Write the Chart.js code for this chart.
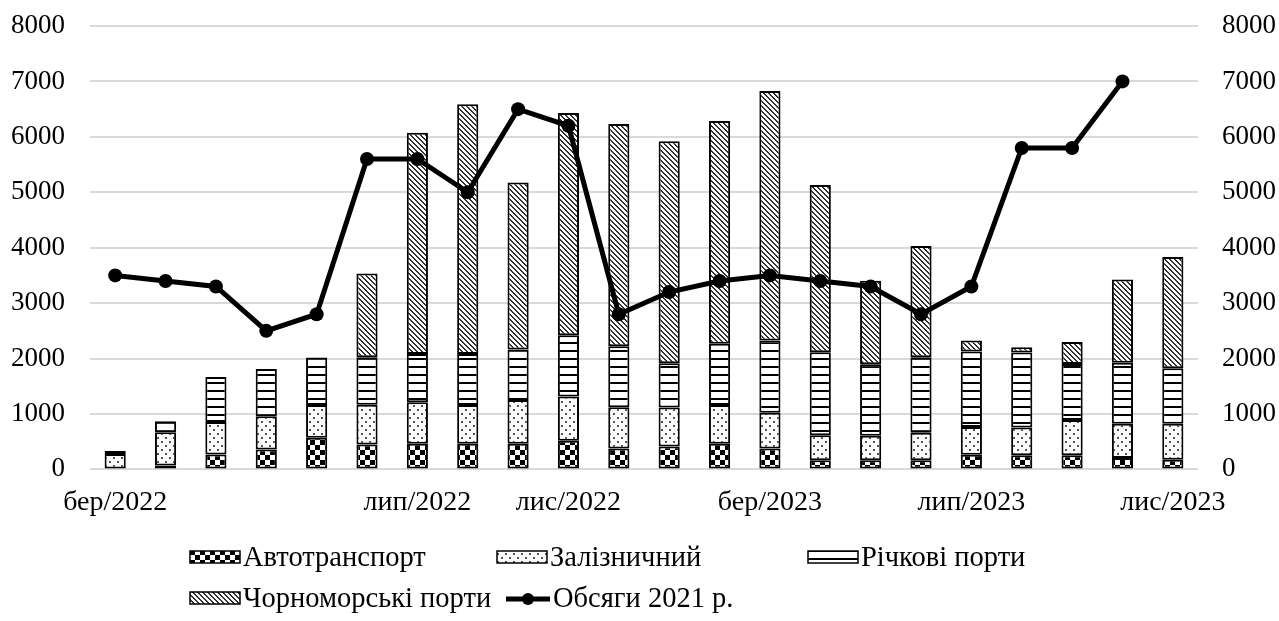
<!DOCTYPE html>
<html>
<head>
<meta charset="utf-8">
<script src="https://cdn.jsdelivr.net/npm/chart.js@4"></script>
<style>
  html, body { margin: 0; background: #fff; }
  #wrap { width: 1279px; height: 621px; }
</style>
</head>
<body>
<div id="wrap"><canvas id="chart"></canvas></div>
<script>
// categories (only some carry a visible label, as in the source chart)
const categories = ['бер/2022', '', '', '', '', '', 'лип/2022', '', '', 'лис/2022', '', '',
                    '', 'бер/2023', '', '', '', 'лип/2023', '', '', '', 'лис/2023'];

const avto   = [null, 70, 270, 360, 570, 450, 465, 465, 465, 515, 375, 415, 465, 375, 165, 165, 165, 265, 255, 255, 205, 175];
const zaliz  = [280, 600, 585, 600, 590, 715, 745, 695, 785, 800, 745, 700, 695, 645, 450, 440, 495, 500, 500, 635, 620, 650];
const richka = [50, 200, 810, 850, 860, 860, 870, 920, 915, 1105, 1100, 800, 1105, 1305, 1500, 1290, 1365, 1360, 1355, 1010, 1100, 1000];
const chorno = [null, null, null, null, null, 1510, 3995, 4510, 3010, 4010, 4010, 4005, 4020, 4500, 3015, 1510, 2005, 200, 95, 400, 1500, 2005];
const obsyagy2021 = [3500, 3400, 3300, 2500, 2800, 5600, 5600, 5000, 6500, 6200, 2800, 3200, 3400, 3500, 3400, 3300, 2800, 3300, 5800, 5800, 7000, null];

const yTicks = { min: 0, max: 8000, step: 1000 };

const FONT = "'Liberation Serif', 'Times New Roman', serif";
Chart.defaults.font.family = FONT;
Chart.defaults.font.size = 27;
Chart.defaults.color = '#000';

function makePattern(kind) {
  const c = document.createElement('canvas');
  const g = c.getContext('2d');
  if (kind === 'checker') {
    c.width = c.height = 10;
    g.fillStyle = '#fff'; g.fillRect(0, 0, 10, 10);
    g.fillStyle = '#000'; g.fillRect(0, 0, 5, 5); g.fillRect(5, 5, 5, 5);
  } else if (kind === 'dots') {
    c.width = c.height = 8;
    g.fillStyle = '#fcfcfc'; g.fillRect(0, 0, 8, 8);
    g.fillStyle = '#555'; g.fillRect(1, 1, 2, 2); g.fillRect(5, 5, 2, 2);
  } else if (kind === 'hlines') {
    c.width = c.height = 8;
    g.fillStyle = '#fff'; g.fillRect(0, 0, 8, 8);
    g.fillStyle = '#000'; g.fillRect(0, 6, 8, 2);
  } else {
    c.width = c.height = 5;
    g.fillStyle = '#fff'; g.fillRect(0, 0, 5, 5);
    g.fillStyle = '#333';
    for (let y = 0; y < 5; y++) { g.fillRect(y, y, 1, 1); g.fillRect((y + 1) % 5, y, 1, 1); }
  }
  return g.createPattern(c, 'repeat');
}

const barStyle = {
  borderColor: '#000',
  borderWidth: 2,
  borderSkipped: false,
  categoryPercentage: 1,
  barPercentage: 0.42,
  stack: 'a',
  yAxisID: 'y',
  order: 1
};

// legend drawn by hand so its rows line up like the original
const legendSlots = [[190, 558], [497, 558], [808, 558], [190, 599], [506, 599]];
const legendPlugin = {
  id: 'manualLegend',
  afterDraw(chart) {
    const ctx = chart.ctx;
    ctx.save();
    ctx.font = '28.5px ' + FONT;
    ctx.textBaseline = 'middle';
    ctx.fillStyle = '#000';
    chart.data.datasets.forEach((ds, i) => {
      const [x, y] = legendSlots[i];
      if (ds.type === 'line') {
        ctx.strokeStyle = '#000';
        ctx.lineWidth = 5;
        ctx.beginPath(); ctx.moveTo(x, y); ctx.lineTo(x + 44, y); ctx.stroke();
        ctx.beginPath(); ctx.arc(x + 22, y, 6, 0, Math.PI * 2); ctx.fill();
        ctx.fillText(ds.label, x + 47, y + 1);
      } else {
        ctx.fillStyle = ds.backgroundColor;
        ctx.fillRect(x, y - 7, 50, 12);
        ctx.strokeStyle = '#000';
        ctx.lineWidth = 1.5;
        ctx.strokeRect(x, y - 7, 50, 12);
        ctx.fillStyle = '#000';
        ctx.fillText(ds.label, x + 53, y + 1);
      }
    });
    ctx.restore();
  }
};

const noPad = s => { s.paddingTop = 0; s.paddingBottom = 0; };

new Chart(document.getElementById('chart'), {
  data: {
    labels: categories,
    datasets: [
      Object.assign({ type: 'bar', label: 'Автотранспорт', data: avto, backgroundColor: makePattern('checker') }, barStyle),
      Object.assign({ type: 'bar', label: 'Залізничний', data: zaliz, backgroundColor: makePattern('dots') }, barStyle),
      Object.assign({ type: 'bar', label: 'Річкові порти', data: richka, backgroundColor: makePattern('hlines') }, barStyle),
      Object.assign({ type: 'bar', label: 'Чорноморські порти', data: chorno, backgroundColor: makePattern('diag') }, barStyle),
      {
        type: 'line', label: 'Обсяги 2021 р.', data: obsyagy2021,
        borderColor: '#000', backgroundColor: '#000', borderWidth: 5,
        pointRadius: 7, pointBackgroundColor: '#000', pointBorderWidth: 0,
        tension: 0, yAxisID: 'y1', order: 0, spanGaps: false
      }
    ]
  },
  options: {
    responsive: true,
    maintainAspectRatio: false,
    animation: false,
    layout: { padding: { top: 26, bottom: 94, left: 0, right: 0 } },
    plugins: { legend: { display: false }, tooltip: { enabled: false } },
    scales: {
      x: {
        stacked: true,
        grid: { display: false },
        border: { display: false },
        ticks: { padding: 8, maxRotation: 0, autoSkip: false, font: { size: 28 } }
      },
      y: {
        stacked: true,
        min: yTicks.min, max: yTicks.max,
        ticks: { stepSize: yTicks.step, padding: 25, callback: v => String(v) },
        grid: { color: '#d9d9d9', lineWidth: 2, drawTicks: false },
        border: { display: false },
        afterFit: s => { s.width = 90; noPad(s); }
      },
      y1: {
        position: 'right',
        min: yTicks.min, max: yTicks.max,
        ticks: { stepSize: yTicks.step, padding: 24, callback: v => String(v) },
        grid: { display: false, drawTicks: false },
        border: { display: false },
        afterFit: s => { s.width = 81; noPad(s); }
      }
    }
  },
  plugins: [legendPlugin]
});
</script>
</body>
</html>
